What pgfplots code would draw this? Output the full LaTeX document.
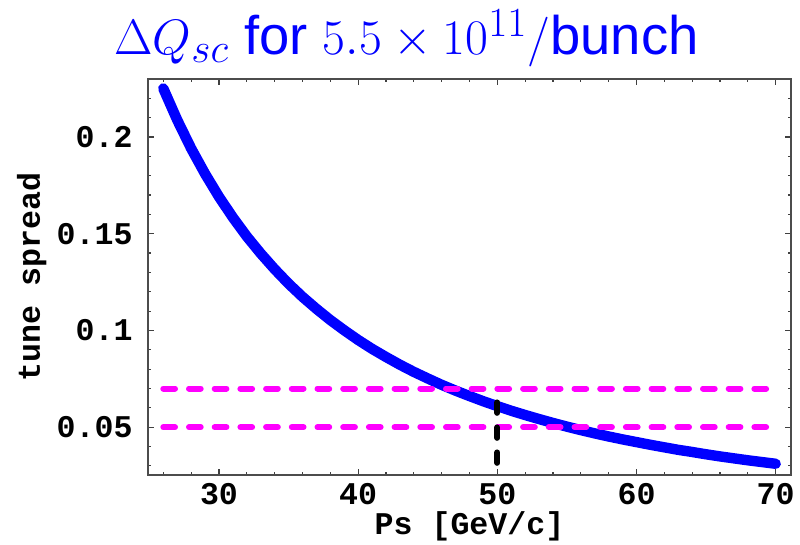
\documentclass[border=0pt]{standalone}
\usepackage{pgfplots}
\pgfplotsset{compat=1.18}
\usepackage{fontspec}
\setmainfont{Liberation Sans}
\setmonofont{Liberation Mono}
\definecolor{mag}{RGB}{255,0,255}
\begin{document}
\begin{tikzpicture}
\useasboundingbox (-74pt,-35pt) rectangle (326pt,237.5pt);
\begin{axis}[
  at={(0,0)}, anchor=south west,
  scale only axis, width=321.5pt, height=198pt,
  xmin=24.9, xmax=71.1, ymin=0.0253, ymax=0.23,
  xtick={30,40,50,60,70}, xticklabels={30,40,50,60,70},
  ytick={0.05,0.1,0.15,0.2}, yticklabels={0.05,0.1,0.15,0.2},
  minor xtick={26,28,32,34,36,38,42,44,46,48,52,54,56,58,62,64,66,68},
  minor ytick={0.03,0.04,0.06,0.07,0.08,0.09,0.11,0.12,0.13,0.14,0.16,0.17,0.18,0.19,0.21,0.22,0.23},
  axis line style={black!70, line width=0.7pt},
  every tick/.style={black!75, line width=0.6pt},
  major tick length=2.8pt, minor tick length=1.5pt,
  ticklabel style={font=\ttfamily\bfseries\fontsize{15.8}{17}\selectfont},
  xticklabel style={inner sep=0pt, yshift=-4pt},
  yticklabel style={inner sep=0pt, xshift=-7.5pt},
  xlabel={Ps [GeV/c]}, ylabel={tune spread},
  label style={font=\ttfamily\bfseries\fontsize{15.8}{17}\selectfont},
  xlabel style={at={(axis description cs:0.5,-0.1288)}, anchor=center, inner sep=0pt},
  ylabel style={at={(axis description cs:-0.181,0.5)}, anchor=center, inner sep=0pt},
]
\addplot[blue, line width=5.2pt, line cap=round, line join=round] coordinates {
(26,0.2251)(27,0.2088)(28,0.1941)(29,0.1810)(30,0.1691)(31,0.1584)(32,0.1486)
(33,0.1398)(34,0.1317)(35,0.1242)(36,0.1174)(37,0.1112)(38,0.1054)(39,0.1001)
(40,0.0951)(41,0.0905)(42,0.0863)(43,0.0823)(44,0.0786)(45,0.0752)(46,0.0719)
(47,0.0689)(48,0.0661)(49,0.0634)(50,0.0609)(51,0.0585)(52,0.0563)(53,0.0542)
(54,0.0522)(55,0.0503)(56,0.0485)(57,0.0468)(58,0.0452)(59,0.0437)(60,0.0423)
(61,0.0409)(62,0.0396)(63,0.0383)(64,0.0372)(65,0.0360)(66,0.0349)(67,0.0339)
(68,0.0329)(69,0.0320)(70,0.0311)};
\addplot[mag, line width=3pt, line cap=round, dash pattern=on 5.85pt off 7pt] coordinates {(26,0.07)(70,0.07)};
\addplot[mag, line width=3pt, line cap=round, dash pattern=on 5.85pt off 7pt] coordinates {(26,0.05)(70,0.05)};
\addplot[black, line width=3pt, line cap=round, dash pattern=on 5.2pt off 7.3pt] coordinates {(50,0.0628)(50,0.0262)};
\end{axis}
\node[anchor=base, text=blue, inner sep=0pt] at (129.25pt,210pt)
  {\fontsize{27.2}{32}\selectfont $\Delta Q_{sc}$ for $5.5\times 10^{11}/$bunch};
\end{tikzpicture}
\end{document}
